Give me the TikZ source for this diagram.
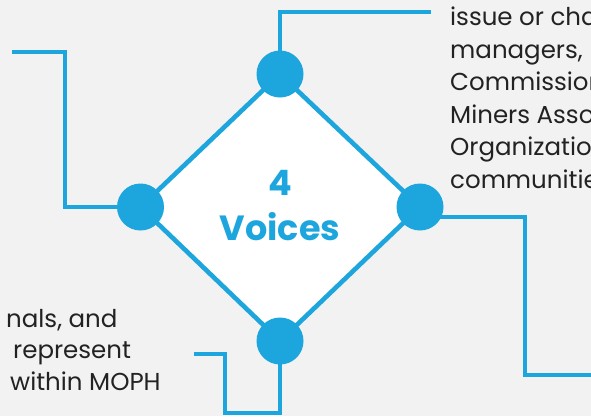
\documentclass[tikz,border=0pt]{standalone}
\usepackage{fontspec}
\setmainfont{Poppins}
\definecolor{vblue}{HTML}{1DA5DE}
\definecolor{bgray}{HTML}{F2F2F2}
\definecolor{txt}{HTML}{222222}
\pgfdeclarelayer{back}
\pgfdeclarelayer{mid}
\pgfsetlayers{back,mid,main}
\tikzset{
  dot/.style={circle,fill=vblue,minimum size=47pt,inner sep=0pt},
  conn/.style={draw=vblue,line width=3.4pt},
  edge/.style={draw=vblue,line width=4.6pt,fill=white,line join=miter},
  desc/.style={anchor=base west,inner sep=0pt,text=txt,font=\fontsize{24.5}{30}\selectfont},
  title/.style={anchor=base,inner sep=0pt,text=vblue,font=\bfseries\fontsize{35}{40}\selectfont}
}
\begin{document}
\begin{tikzpicture}[x=1pt,y=-1pt]
\begin{pgfonlayer}{back}
\fill[bgray] (0,0) rectangle (591,416);
\end{pgfonlayer}
\useasboundingbox (0,0) rectangle (591,416);

\node[dot] (T) at (280,74) {};
\node[dot] (L) at (140.5,207) {};
\node[dot] (R) at (420,207) {};
\node[dot] (B) at (280,341) {};

\coordinate (tEnd) at (431,12);
\coordinate (lc) at (65,52);
\coordinate (lEnd) at (12,52);
\coordinate (rc) at (525,375);
\coordinate (rEnd) at (595,375);
\coordinate (bc) at (225,413);
\coordinate (bEnd) at (194,354);

\begin{pgfonlayer}{mid}
\path[edge] (T.center) -- (R.center) -- (B.center) -- (L.center) -- cycle;
\draw[conn] (T.center) |- (tEnd);
\draw[conn] (L.center) -| (lc) -- (lEnd);
\draw[conn] ([yshift=-10pt]R.center) -| (rc) -- (rEnd);
\draw[conn] (B.center) |- (bc) |- (bEnd);
\end{pgfonlayer}

\node[title] (n4) at (280,195) {4};
\node[title] (nv) at (280,240) {Voices};

\node[desc] (r1) at (450,25) {issue or cha};
\node[desc] (r2) at (450,58) {managers,};
\node[desc] (r3) at (450,90.5) {Commission};
\node[desc] (r4) at (450,123) {Miners Asso};
\node[desc] (r5) at (450,155.5) {Organizatio};
\node[desc] (r6) at (450,188) {communitie};

\node[desc] (b1) at (6,327) {nals, and};
\node[desc] (b2) at (13,358) {represent};
\node[desc] (b3) at (10,390) {within MOPH};
\end{tikzpicture}
\end{document}
